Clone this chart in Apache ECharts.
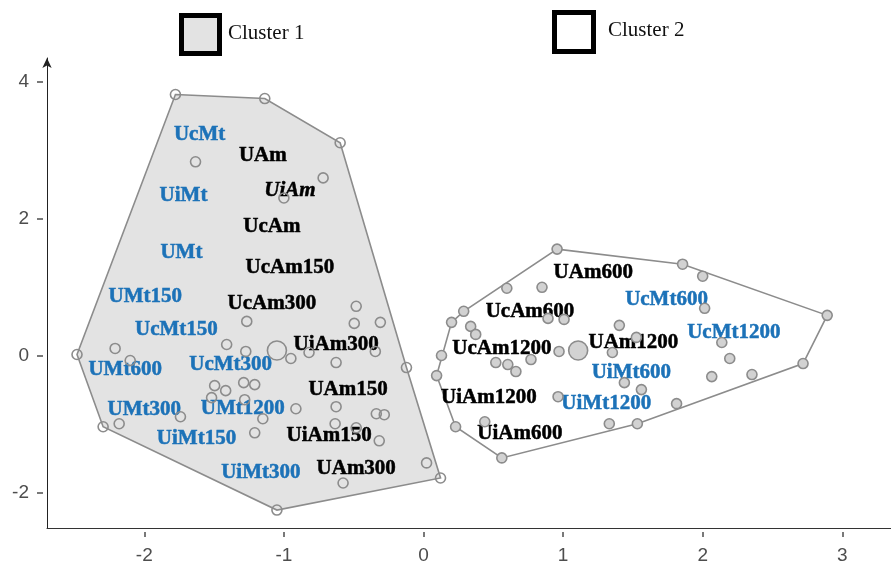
<!DOCTYPE html>
<html>
<head>
<meta charset="utf-8">
<script src="https://cdn.jsdelivr.net/npm/echarts@6/dist/echarts.min.js"></script>
<style>
  html, body { margin: 0; padding: 0; background: #fff; }
  #chart { width: 891px; height: 565px; }
</style>
</head>
<body>
<div id="chart"></div>
<script>
// Tick values for both axes
const xTicks = [-2, -1, 0, 1, 2, 3];
const yTicks = [-2, 0, 2, 4];

// Cluster 1 observations (first entries are the hull vertices)
const cluster1X = [-1.777, -1.137, -0.597, -0.122, 0.122, -1.050, -2.295, -2.482,
  -1.633, -0.719, -1.0, -0.482, -0.496, -0.309, -1.266, -1.410, -1.273, -2.209, -2.101,
  -0.950, -0.820, -0.626, -0.345, -1.496, -1.417, -1.288, -1.209, -1.518, -1.281, -1.741,
  -1.151, -0.914, -1.209, -2.180, -0.626, -0.633, -0.338, -0.281, -0.317, -0.482, 0.022, -0.576];
const cluster1Y = [3.810, 3.751, 3.106, -0.176, -1.788, -2.256, -1.040, 0.015,
  2.828, 2.593, 2.300, 0.718, 0.469, 0.484, 0.498, 0.161, 0.059, 0.103, -0.073,
  -0.044, 0.044, -0.103, 0.059, -0.440, -0.513, -0.396, -0.425, -0.615, -0.645, -0.894,
  -0.923, -0.777, -1.128, -0.996, -0.747, -0.996, -0.850, -0.864, -1.245, -1.055, -1.568, -1.861];
const hull1 = [0, 1, 2, 3, 4, 5, 6, 7];
const centre1 = [-1.050, 0.073];

// Cluster 2 observations (first entries are the hull vertices)
const cluster2X = [0.957, 1.856, 2.892, 2.719, 1.532, 0.561, 0.230, 0.094, 0.201, 0.288,
  2.0, 2.353, 1.813, 0.129, 0.597, 0.849, 0.338, 0.374, 0.892, 1.007, 1.403, 1.525,
  0.518, 0.604, 0.662, 0.770, 0.971, 1.353, 2.014, 2.137, 2.194, 2.065, 1.439, 1.561,
  0.964, 0.439, 1.331];
const cluster2Y = [1.553, 1.333, 0.586, -0.117, -0.996, -1.495, -1.040, -0.293, 0.484, 0.645,
  1.158, -0.278, -0.703, 0.0, 0.982, 0.996, 0.425, 0.308, 0.542, 0.527, 0.440, 0.264,
  -0.103, -0.132, -0.234, -0.059, 0.059, 0.044, 0.689, 0.190, -0.044, -0.308, -0.396, -0.498,
  -0.601, -0.967, -0.996];
const hull2 = [0, 1, 2, 3, 4, 5, 6, 7, 8, 9];
const centre2 = [1.108, 0.073];

// Treatment labels and where they sit
const labelNames = ['UcMt', 'UAm', 'UiMt', 'UiAm', 'UcAm', 'UMt', 'UcAm150', 'UMt150', 'UcAm300',
  'UcMt150', 'UiAm300', 'UMt600', 'UcMt300', 'UAm150', 'UMt300', 'UMt1200', 'UiMt150', 'UiAm150',
  'UiMt300', 'UAm300',
  'UAm600', 'UcMt600', 'UcAm600', 'UAm1200', 'UcMt1200', 'UcAm1200', 'UiMt600', 'UiAm1200',
  'UiMt1200', 'UiAm600'];
const labelX = [-1.604, -1.151, -1.719, -0.957, -1.086, -1.734, -0.957, -1.993, -1.086,
  -1.770, -0.626, -2.137, -1.381, -0.540, -2.0, -1.295, -1.626, -0.676, -1.165, -0.482,
  1.216, 1.741, 0.763, 1.504, 2.223, 0.561, 1.489, 0.468, 1.309, 0.691];
const labelY = [3.223, 2.916, 2.330, 2.403, 1.875, 1.509, 1.289, 0.864, 0.762,
  0.381, 0.161, -0.205, -0.132, -0.498, -0.791, -0.777, -1.216, -1.172, -1.714, -1.656,
  1.216, 0.821, 0.645, 0.190, 0.337, 0.103, -0.249, -0.615, -0.703, -1.143];

const legendNames = ['Cluster 1', 'Cluster 2'];

const X_MIN = -2.697, X_MAX = 3.349, Y_MIN = -2.518, Y_MAX = 4.343;
const BLUE = '#1c72b8';
const EDGE = '#8c8c8c';

function pairs(xs, ys) { return xs.map((x, i) => [x, ys[i]]); }

function hullSeries(xs, ys, order, fill) {
  return {
    type: 'custom',
    coordinateSystem: 'cartesian2d',
    silent: true,
    z: 1,
    data: order.map(i => [xs[i], ys[i]]),
    renderItem: function (params, api) {
      if (params.dataIndex !== 0) return null;
      const pts = order.map(i => api.coord([xs[i], ys[i]]));
      return {
        type: 'polygon',
        shape: { points: pts },
        style: { fill: fill, stroke: EDGE, lineWidth: 1.6 }
      };
    }
  };
}

function pointSeries(data, size, fill) {
  return {
    type: 'scatter',
    z: 4,
    silent: true,
    symbol: 'circle',
    symbolSize: size,
    data: data,
    itemStyle: { color: fill, borderColor: EDGE, borderWidth: 1.6, opacity: 1 }
  };
}

const labelSeries = {
  type: 'custom',
  coordinateSystem: 'cartesian2d',
  silent: true,
  z: 3,
  data: pairs(labelX, labelY),
  renderItem: function (params, api) {
    const i = params.dataIndex;
    const name = labelNames[i];
    const p = api.coord([labelX[i], labelY[i]]);
    const colour = name.indexOf('Mt') >= 0 ? BLUE : '#000';
    return {
      type: 'text',
      x: p[0],
      y: p[1],
      style: {
        text: name,
        fill: colour,
        stroke: colour,
        lineWidth: 0.5,
        fontFamily: '"Liberation Serif", "Times New Roman", serif',
        fontWeight: 'bold',
        fontStyle: name === 'UiAm' ? 'italic' : 'normal',
        fontSize: 21,
        align: 'center',
        verticalAlign: 'middle'
      }
    };
  }
};

const axisFont = { color: '#4d4d4d', fontSize: 19, fontFamily: '"Liberation Sans", Arial, sans-serif' };

const option = {
  animation: false,
  backgroundColor: '#fff',
  grid: { left: 47, right: 0, top: 58, bottom: 37, containLabel: false },
  xAxis: [
    {
      type: 'value', min: X_MIN, max: X_MAX, position: 'bottom', offset: 4,
      axisLine: { show: false, onZero: false },
      axisTick: { show: true, length: 5, customValues: xTicks, lineStyle: { color: '#4d4d4d', width: 1.5 } },
      axisLabel: Object.assign({ customValues: xTicks, margin: 14 }, axisFont),
      splitLine: { show: false }
    },
    {
      type: 'value', min: X_MIN, max: X_MAX, position: 'bottom', offset: 0,
      axisLine: { show: true, onZero: false, lineStyle: { color: '#333', width: 1 } },
      axisTick: { show: false }, axisLabel: { show: false }, splitLine: { show: false }
    }
  ],
  yAxis: [
    {
      type: 'value', min: Y_MIN, max: Y_MAX, position: 'left', offset: 4,
      axisLine: { show: false, onZero: false },
      axisTick: { show: true, length: 6, customValues: yTicks, lineStyle: { color: '#4d4d4d', width: 1.5 } },
      axisLabel: Object.assign({ customValues: yTicks, margin: 14 }, axisFont),
      splitLine: { show: false }
    },
    {
      type: 'value', min: Y_MIN, max: Y_MAX, position: 'left', offset: 0,
      axisLine: {
        show: true, onZero: false, symbol: ['none', 'arrow'], symbolSize: [7, 10],
        lineStyle: { color: '#222', width: 1 }
      },
      axisTick: { show: false }, axisLabel: { show: false }, splitLine: { show: false }
    }
  ],
  graphic: [
    { type: 'rect', left: 179, top: 13, z: 10,
      shape: { width: 38, height: 38 },
      style: { fill: '#e3e3e3', stroke: '#000', lineWidth: 5 } },
    { type: 'text', left: 228, top: 23, z: 10,
      style: { text: legendNames[0], fill: '#111', fontSize: 21, fontFamily: '"Liberation Serif", "Times New Roman", serif' } },
    { type: 'rect', left: 552, top: 10, z: 10,
      shape: { width: 39, height: 39 },
      style: { fill: '#fff', stroke: '#000', lineWidth: 5 } },
    { type: 'text', left: 608, top: 20, z: 10,
      style: { text: legendNames[1], fill: '#111', fontSize: 21, fontFamily: '"Liberation Serif", "Times New Roman", serif' } }
  ],
  series: [
    hullSeries(cluster1X, cluster1Y, hull1, '#e3e3e3'),
    hullSeries(cluster2X, cluster2Y, hull2, '#ffffff'),
    labelSeries,
    pointSeries(pairs(cluster1X, cluster1Y), 10, 'rgba(0,0,0,0)'),
    pointSeries(pairs(cluster2X, cluster2Y), 10, '#d2d2d2'),
    pointSeries([centre1], 19, 'rgba(0,0,0,0)'),
    pointSeries([centre2], 19, '#d2d2d2')
  ]
};

const chart = echarts.init(document.getElementById('chart'), null, { renderer: 'canvas' });
chart.setOption(option);
</script>
</body>
</html>
